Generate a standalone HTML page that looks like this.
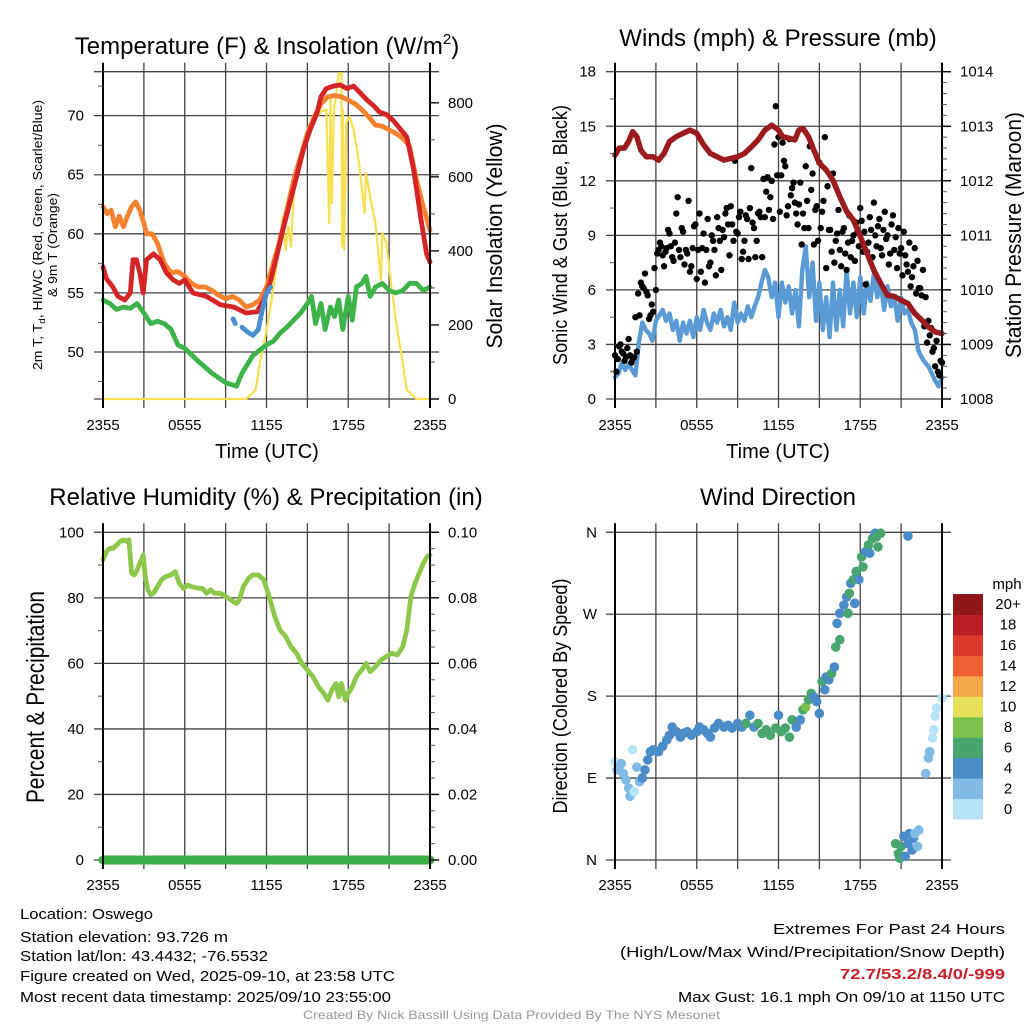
<!DOCTYPE html>
<html><head><meta charset="utf-8"><style>
html,body{margin:0;padding:0;background:#fff;}
svg{display:block;font-family:"Liberation Sans",sans-serif;}
</style></head><body>
<svg id="chart" width="1024" height="1024" viewBox="0 0 1024 1024" xmlns="http://www.w3.org/2000/svg">
<rect x="0" y="0" width="1024" height="1024" fill="#fff"/>
<g id="grids"></g>
<g id="series"></g>
<g id="frames"></g>
<g id="labels" fill="#000">
  <text x="267" y="54" font-size="24" text-anchor="middle">Temperature (F) &amp; Insolation (W/m<tspan font-size="15" dy="-10">2</tspan><tspan dy="10">)</tspan></text>
  <text x="778" y="46" font-size="24" text-anchor="middle">Winds (mph) &amp; Pressure (mb)</text>
  <text x="266" y="505" font-size="24" text-anchor="middle">Relative Humidity (%) &amp; Precipitation (in)</text>
  <text x="778" y="505" font-size="24" text-anchor="middle">Wind Direction</text>
  <text x="267" y="458" font-size="20" text-anchor="middle">Time (UTC)</text>
  <text x="778" y="458" font-size="20" text-anchor="middle">Time (UTC)</text>
  <text transform="translate(42,235) rotate(-90)" font-size="13" text-anchor="middle" textLength="270" lengthAdjust="spacingAndGlyphs">2m T, T<tspan font-size="9" dy="3">d</tspan><tspan dy="-3">, HI/WC (Red, Green, Scarlet/Blue)</tspan></text>
  <text transform="translate(57,245) rotate(-90)" font-size="13" text-anchor="middle" textLength="104" lengthAdjust="spacingAndGlyphs">&amp; 9m T (Orange)</text>
  <text transform="translate(502,236) rotate(-90)" font-size="22" text-anchor="middle" textLength="225" lengthAdjust="spacingAndGlyphs">Solar Insolation (Yellow)</text>
  <text transform="translate(567,235) rotate(-90)" font-size="20" text-anchor="middle" textLength="260" lengthAdjust="spacingAndGlyphs">Sonic Wind &amp; Gust (Blue, Black)</text>
  <text transform="translate(1021,235) rotate(-90)" font-size="22" text-anchor="middle" textLength="246" lengthAdjust="spacingAndGlyphs">Station Pressure (Maroon)</text>
  <text transform="translate(44,697) rotate(-90)" font-size="25" text-anchor="middle" textLength="212" lengthAdjust="spacingAndGlyphs">Percent &amp; Precipitation</text>
  <text transform="translate(567,696) rotate(-90)" font-size="20" text-anchor="middle" textLength="235" lengthAdjust="spacingAndGlyphs">Direction (Colored By Speed)</text>
  <text x="1007" y="589" font-size="15" text-anchor="middle">mph</text>
  <g font-size="15">
    <text x="20" y="919" textLength="133" lengthAdjust="spacingAndGlyphs">Location: Oswego</text>
    <text x="20" y="942" textLength="208" lengthAdjust="spacingAndGlyphs">Station elevation: 93.726 m</text>
    <text x="20" y="961" textLength="248" lengthAdjust="spacingAndGlyphs">Station lat/lon: 43.4432; -76.5532</text>
    <text x="20" y="981" textLength="375" lengthAdjust="spacingAndGlyphs">Figure created on Wed, 2025-09-10, at 23:58 UTC</text>
    <text x="20" y="1002" textLength="371" lengthAdjust="spacingAndGlyphs">Most recent data timestamp: 2025/09/10 23:55:00</text>
  </g>
  <g font-size="15">
    <text x="773" y="934" textLength="232" lengthAdjust="spacingAndGlyphs">Extremes For Past 24 Hours</text>
    <text x="620" y="957" textLength="385" lengthAdjust="spacingAndGlyphs">(High/Low/Max Wind/Precipitation/Snow Depth)</text>
    <text x="840" y="979" textLength="165" lengthAdjust="spacingAndGlyphs" fill="#c8202a" font-weight="bold">72.7/53.2/8.4/0/-999</text>
    <text x="678" y="1002" textLength="327" lengthAdjust="spacingAndGlyphs">Max Gust: 16.1 mph On 09/10 at 1150 UTC</text>
  </g>
  <text x="303" y="1019" font-size="12" fill="#999" textLength="417" lengthAdjust="spacingAndGlyphs">Created By Nick Bassill Using Data Provided By The NYS Mesonet</text>
</g>
</svg>
<script>
// ---------- data ----------
const timeTickLabels = ["2355","0555","1155","1755","2355"];
const tempTicks = [50,55,60,65,70];
const insolTicks = [0,200,400,600,800];
const windTicks = [0,3,6,9,12,15,18];
const presTicks = [1008,1009,1010,1011,1012,1013,1014];
const rhTicks = [0,20,40,60,80,100];
const precipTickLabels = ["0.00","0.02","0.04","0.06","0.08","0.10"];
const dirTickLabels = ["N","E","S","W","N"];
const speedBinLabels = ["0","2","4","6","8","10","12","14","16","18","20+"];
const speedBinColors = ["#b7e3f7","#7fbbe4","#4a8cc7","#48a56e","#7cc24a","#e8e05a","#f5a849","#ef6130","#dc3a2c","#bd1f26","#8f1519"];

const tempT = [0,0.25,0.73,1.1,1.6,2,2.2,2.45,2.7,2.95,3.2,3.7,4.2,4.65,5.15,5.6,6,6.6,7.6,8.6,9.6,10.5,11.3,11.8,12.25,12.75,13.2,13.7,14.2,14.7,15.2,15.7,16,16.4,16.9,17.4,17.9,18.4,18.9,19.4,19.9,20.3,20.8,21.3,21.8,22.3,22.8,23.3,23.75,24];
const tempV = [57.2,56.2,55.5,54.7,54.4,55,57.8,57.8,56.7,55,57.8,58.3,57.8,56.7,56.1,55.8,56.1,55,54.7,54,53.8,53.3,53.4,54.4,55.8,58.1,60.3,62.6,64.8,67.1,68.8,70.2,71.6,72.3,72.5,72.6,72.3,72.5,71.9,71.3,70.8,70.3,70.1,69.6,68.9,68.2,65.4,61.5,58.3,57.6];
const temp9T = [0,0.3,0.6,0.9,1.2,1.5,1.8,2.1,2.4,2.7,3,3.2,3.6,4,4.5,5,5.5,6,6.5,7,7.5,8,8.5,9,9.5,10,10.5,11,11.5,12,12.5,13,14,15,15.5,16,16.5,17,17.5,18,18.5,19,19.5,20,20.5,21,21.5,22,22.5,23,23.5,24];
const temp9V = [62.3,61.7,62,60.6,61.5,60.6,61.5,62.3,62.7,62,60.9,60,60,59.2,57.5,56.7,56.8,56.4,55.8,55.5,55.5,55.2,54.8,54.5,54.7,54.4,53.8,54,54.4,55.5,57.5,59.5,64.6,68.5,69.9,71,71.6,71.7,71.6,71.3,71,70.5,69.9,69.2,69.1,68.8,68.5,68.1,67.4,64.6,62.3,60.3];
const dewT = [0,0.5,1,1.5,2,2.5,3,3.5,4,4.5,5,5.5,6,7,8,9,9.8,10.2,11,12,12.5,13,13.5,14,14.5,15,15.3,15.6,16,16.3,16.7,17,17.3,17.6,18,18.3,18.6,19,19.3,19.6,20,20.5,21,21.5,22,22.5,23,23.5,24];
const dewV = [54.4,54.1,53.6,53.8,53.7,54.1,53.3,52.4,52.6,52.4,51.9,50.6,50.3,49.2,48.2,47.4,47.1,48.2,49.7,50.6,50.9,51.6,52.1,52.7,53.3,54.1,54.7,52.4,54.1,51.9,53.8,53,54.4,51.9,54.7,52.7,55.5,55.8,56.4,54.7,55.5,55.8,55.2,55,55.2,55.8,55.8,55.2,55.5];
const chillT = [10.2,10.6,11,11.4,11.7,12,12.3];
const chillV = [52.1,51.7,51.4,51.9,53.6,55,55.5];
const chillT2 = [9.55,9.7];
const chillV2 = [52.8,52.4];
const insolT = [0,10.5,11.2,11.5,12,12.3,12.7,13,13.2,13.4,13.6,13.8,14,14.5,15,15.5,16,16.4,16.6,16.7,16.8,16.95,17.1,17.3,17.5,17.55,17.6,17.7,17.85,18.1,18.4,18.8,19.2,19.3,19.7,20,20.4,20.5,20.8,21.2,21.6,22,22.3,23,24];
const insolV = [0,0,24,96,186,250,349,421,493,403,466,412,556,637,700,754,777,781,475,817,529,781,817,880,880,412,781,403,745,763,727,637,502,610,529,475,322,448,421,295,186,96,24,0,0];

const presT = [0,0.3,0.7,1,1.3,1.6,1.9,2.3,2.8,3.2,3.6,4,4.5,5,5.5,6,6.5,7,7.5,8,8.5,9,9.5,10,10.5,11,11.5,12,12.3,12.8,13.2,13.5,13.8,14.2,14.6,15,15.5,16,16.5,17,17.5,18,18.5,19,19.5,20,20.5,21,21.5,22,22.5,23,23.5,24];
const presV = [1012.47,1012.6,1012.6,1012.72,1012.9,1012.81,1012.56,1012.44,1012.44,1012.38,1012.5,1012.72,1012.81,1012.87,1012.93,1012.87,1012.66,1012.5,1012.44,1012.38,1012.41,1012.44,1012.5,1012.62,1012.75,1012.93,1013.02,1012.93,1012.81,1012.78,1012.75,1012.93,1012.96,1012.81,1012.56,1012.32,1012.2,1012.01,1011.71,1011.44,1011.28,1010.98,1010.67,1010.36,1010.12,1009.9,1009.88,1009.81,1009.75,1009.57,1009.45,1009.32,1009.23,1009.2];
const windStep = 0.25;
const windV = [1.2,1.4,2.0,1.6,1.9,1.6,1.3,3.1,4.2,3.8,3.6,3.2,4.3,4.6,4.9,4.3,4.7,3.8,4.3,3.2,4.2,3.6,4.3,3.4,4.5,3.8,4.9,4.2,3.8,4.7,4.2,4.9,4.0,4.5,3.8,5.3,4.2,4.7,4.3,5.1,4.5,5.1,5.6,6.4,7.1,6.7,5.6,6.4,4.5,6.4,5.3,6.2,4.7,6.0,4.0,7.1,8.4,5.6,7.5,4.3,6.4,3.8,5.6,3.4,6.4,3.8,6.0,4.0,7.1,4.7,6.4,4.5,6.7,4.7,6.4,5.4,6.9,5.6,6.4,4.9,6.2,5.1,5.6,4.3,5.6,4.7,4.9,4.2,3.8,2.7,2.3,2.0,1.8,1.4,1.0,0.7,1.2];
const gustStep = 0.2;
const gustV = [2.4,2.2,3.0,2.5,2.3,3.3,2.0,2.3,2.6,4.6,6.2,6.9,5.7,4.6,4.8,6.0,8.2,8.4,7.3,8.3,9.1,7.8,8.6,11.1,7.8,9.2,8.2,10.9,7.3,9.5,6.6,10.2,8.3,6.4,9.9,7.5,8.7,6.8,9.4,7.1,8.9,10.5,7.9,9.6,13.1,9.1,10.3,8.1,10.1,7.7,12.7,9.4,8.7,10.3,7.8,10.0,12.2,11.1,9.9,16.1,14.4,12.3,13.1,10.1,14.3,11.6,10.8,9.6,11.9,10.2,12.8,9.4,11.5,8.5,10.6,13.0,10.3,14.4,11.7,9.3,12.4,8.7,10.4,7.3,9.4,7.1,10.1,8.7,7.6,9.2,10.5,8.1,6.3,8.6,9.3,10.8,8.4,9.9,7.9,10.3,9.0,8.0,10.1,8.9,9.4,8.3,9.2,7.4,8.6,6.7,8.3,7.6,6.1,7.1,5.6,4.3,3.9,2.8,3.2,1.3,2.0];
const gustStep2 = 0.2;
const gustOffset2 = 0.1;
const gustV2 = [1.5,2.9,2.6,2.1,2.8,2.4,2.2,4.5,5.8,6.4,6.1,5.9,4.4,5.2,7.2,8.0,8.6,7.9,8.1,9.3,8.4,7.6,10.2,8.2,9.4,7.4,8.0,7.0,8.3,9.6,8.2,7.0,9.1,8.2,7.3,9.0,8.2,10.0,8.7,9.3,10.2,9.6,10.6,8.7,9.2,10.0,7.7,8.7,9.9,10.5,9.7,7.8,10.2,10.0,12.1,11.4,10.4,12.0,14.0,12.3,10.3,14.1,12.8,10.6,11.2,11.9,10.2,10.7,8.5,9.4,10.9,13.9,12.4,10.4,8.7,9.4,10.9,7.2,9.3,8.1,7.5,9.1,8.2,9.2,8.0,8.6,7.8,9.0,9.7,8.4,9.8,9.2,8.1,10.0,7.8,9.0,9.5,8.3,9.3,8.8,7.4,9.6,8.2,7.2,8.0,6.8,7.9,7.0,6.2,7.3,5.8,6.1,5.7,4.0,3.1,3.5,2.6,1.8,1.5,2.1];

const rhT = [0,0.25,0.5,0.75,1,1.25,1.5,1.75,1.9,2.1,2.3,2.5,2.7,2.95,3.1,3.3,3.5,3.7,4,4.3,4.6,5,5.3,5.6,5.9,6.2,6.5,7,7.3,7.6,7.9,8.2,8.6,9,9.4,9.8,10,10.3,10.7,11,11.4,11.8,12.2,12.6,13,13.4,13.8,14.2,14.6,15,15.4,15.8,16.2,16.5,16.8,17.1,17.3,17.5,17.8,18,18.3,18.6,19,19.3,19.6,20,20.4,20.8,21.2,21.6,22,22.3,22.6,22.9,23.2,23.5,23.8,24];
const rhV = [91.6,94.1,95.1,95.1,96.1,97.2,97.7,97.2,97.7,87.5,87,88.5,90.5,93.1,86.5,82.4,80.9,81.4,83.4,85.5,86.5,87,88,84.4,82.9,83.9,83.4,82.9,82.9,81.4,82.4,81.4,81.4,80.4,79.3,78.3,79.3,83.4,86,87,87,85.5,80.4,74.3,70.2,68.2,65.1,63.1,60,58,56,52.9,50.9,48.8,51.9,53.9,49.8,53.9,48.8,50.9,52.9,56,58,60,57.5,59,61,62.1,63.1,62.6,65.1,70.2,80.4,84.4,87.5,90.5,92.6,93.1];
const precipT = [0,24];
const precipV = [0,0];

const dirT = [0,0.15,0.3,0.45,0.6,0.8,1.0,1.1,1.3,1.4,1.6,1.8,2.0,2.2,2.4,2.6,2.8,3.0,3.2,3.5,3.8,4.0,4.2,4.5,4.8,5.0,5.3,5.6,6.0,6.2,6.5,6.8,7.0,7.3,7.6,8.0,8.3,8.6,9.0,9.3,9.6,9.9,10.2,10.5,10.8,11.1,11.4,11.8,12.0,12.2,12.5,12.8,13.0,13.3,13.6,13.8,14.0,14.2,14.4,14.6,14.8,15.0,15.2,15.4,15.5,15.7,15.9,16.1,16.2,16.5,16.3,16.5,16.8,17.0,17.1,17.2,17.3,17.5,17.6,17.7,17.9,18.1,18.2,18.4,18.6,18.7,18.9,19.1,19.2,19.3,19.5,21.5,20.6,20.8,20.9,21.0,21.2,21.3,21.5,21.6,21.8,21.9,22.0,22.2,22.3,22.8,23.0,23.1,23.3,23.4,23.5,23.6,24.0];
const dirV = [108,99,102,106,95,88,79,70,121,75,102,86,90,99,110,119,121,120,119,125,132,137,146,141,135,139,141,137,141,146,143,139,135,145,150,146,148,145,150,146,150,159,146,150,139,143,137,145,159,141,145,135,154,146,154,165,168,176,183,179,174,161,196,187,201,198,205,212,234,242,260,271,280,289,271,293,304,308,282,317,308,333,322,339,346,337,353,359,355,344,359,356,18,7,2,15,26,4,18,29,11,24,29,15,33,95,112,119,134,143,158,167,178];
const dirS = [1,2,2,2,2,3,2,2,1,1,2,3,4,4,4,4,4,4,4,4,4,4,4,4,4,4,4,4,4,4,4,4,4,4,4,4,4,4,4,4,6,4,4,6,6,6,6,6,4,6,6,6,6,4,4,6,8,6,6,4,4,4,6,4,4,4,6,4,6,6,4,4,4,4,6,6,4,6,4,6,4,6,6,4,6,4,6,4,6,6,6,4,6,6,6,6,4,4,4,4,4,4,2,2,2,2,2,2,1,1,1,1,1];

// ---------- helpers ----------
const NS = "http://www.w3.org/2000/svg";
const G = document.getElementById('grids'), S = document.getElementById('series'), F = document.getElementById('frames'), L = document.getElementById('labels');
function mk(tag, attrs, parent){const e=document.createElementNS(NS,tag);for(const k in attrs)e.setAttribute(k,attrs[k]);parent.appendChild(e);return e;}
function linear(d0,d1,r0,r1){return v=>r0+(v-d0)/(d1-d0)*(r1-r0);}

const panels = {
  tl:{x0:103,x1:430,y0:71.7,y1:399},
  tr:{x0:615,x1:942,y0:71.7,y1:399},
  bl:{x0:103,x1:430,y0:532.3,y1:860},
  br:{x0:615,x1:942,y0:532.3,y1:860}
};
for(const k in panels){const p=panels[k];p.x=linear(0,24,p.x0,p.x1);}

function drawGrid(p, yLines, name){
  const g = mk('g',{},G);
  
  
  for(let h=0;h<=24;h+=3){const x=p.x(h);mk('line',{x1:x,x2:x,y1:p.y0-9,y2:p.y1+9,stroke:'#444','stroke-width':1.3},g);}
  yLines.forEach(y=>mk('line',{x1:p.x0-9,x2:p.x1+9,y1:y,y2:y,stroke:'#444','stroke-width':1.3},g));
}
function drawFrame(p, name){
  const g = mk('g',{},F);
  
  
  mk('line',{x1:p.x0,x2:p.x0,y1:p.y0-9,y2:p.y1+9,stroke:'#000','stroke-width':2},g);
  mk('line',{x1:p.x1,x2:p.x1,y1:p.y0-9,y2:p.y1+9,stroke:'#000','stroke-width':2},g);
}
function minorTicks(p, ys, side){
  ys.forEach(y=>{ if(side==='l') mk('line',{x1:p.x0-5,x2:p.x0,y1:y,y2:y,stroke:'#555','stroke-width':1},F);
    else mk('line',{x1:p.x1,x2:p.x1+5,y1:y,y2:y,stroke:'#555','stroke-width':1},F);});
}
function xLabels(p, base){
  timeTickLabels.forEach((t,i)=>{const e=mk('text',{x:p.x(i*6),y:base,'font-size':15,'text-anchor':'middle'},L);e.textContent=t;
    
    });
}
function yLabel(x,y,txt,anchor){const e=mk('text',{x:x,y:y+5,'font-size':15,'text-anchor':anchor},L);e.textContent=txt;
  
  return e;}
function path(p, ys, ts, vs, color, w, name){
  const d = ts.map((t,i)=>(i?'L':'M')+p.x(t).toFixed(1)+','+ys(vs[i]).toFixed(1)).join(' ');
  const e = mk('path',{d:d,fill:'none',stroke:color,'stroke-width':w,'stroke-linejoin':'round','stroke-linecap':'round'},S);
  
  
  return e;
}

// ---------- Panel TL: temperature ----------
{
  const p=panels.tl;
  const yT = linear(46.02,73.72,p.y1,p.y0);
  const yI = linear(0,884,p.y1,p.y0);
  drawGrid(p,[p.y0,p.y1].concat(tempTicks.map(yT)),'temperature');
  path(p,yI,insolT,insolV,'#f7e04f',2.2,'insolation-line');
  path(p,yT,dewT,dewV,'#3db34a',4.8,'dewpoint-line');
  path(p,yT,temp9T,temp9V,'#f5822e',4.8,'temp-9m-line');
  path(p,yT,tempT,tempV,'#d42426',4.8,'temp-2m-line');
  path(p,yT,chillT,chillV,'#4a90d0',4.8,'windchill-line');
  path(p,yT,chillT2,chillV2,'#4a90d0',4.8,'windchill-line-start');
  drawFrame(p,'temperature');
  minorTicks(p,[47.5,52.5,57.5,62.5,67.5,72.5].map(yT),'l');
  const minorI=[];for(let v=100;v<=800;v+=100)minorI.push(yI(v));
  minorTicks(p,minorI,'r');
  tempTicks.forEach(v=>yLabel(84,yT(v),String(v),'end'));
  insolTicks.forEach(v=>{mk('line',{x1:p.x1,x2:p.x1+9,y1:yI(v),y2:yI(v),stroke:'#000','stroke-width':1.3},F);yLabel(448,yI(v),String(v),'start');});
  xLabels(p,430);
}
// ---------- Panel TR: winds ----------
{
  const p=panels.tr;
  const yW = linear(0,18,p.y1,p.y0);
  const yP = linear(1008,1014,p.y1,p.y0);
  drawGrid(p,windTicks.map(yW),'winds');
  const wt = windV.map((v,i)=>i*windStep);
  path(p,yW,wt,windV,'#5b9bd5',4.4,'wind-speed-line');
  const gg = mk('g',{fill:'#000'},S);
  
  
  gustV.forEach((v,i)=>{const c=mk('circle',{cx:p.x(i*gustStep),cy:yW(v),r:3.2},gg);
    
    });
  gustV2.forEach((v,i)=>{const c=mk('circle',{cx:p.x(gustOffset2+i*gustStep2),cy:yW(v),r:3.2},gg);
    
    });
  path(p,yP,presT,presV,'#9b1b1e',5.5,'pressure-line');
  drawFrame(p,'winds');
  const mW=[];for(let v=1.5;v<18;v+=3)mW.push(yW(v));minorTicks(p,mW,'l');
  const mP=[];for(let v=1008.2;v<1014;v+=0.2){if(Math.abs(v-Math.round(v))>0.05)mP.push(yP(v));}minorTicks(p,mP,'r');
  windTicks.forEach(v=>yLabel(596,yW(v),String(v),'end'));
  presTicks.forEach(v=>{mk('line',{x1:p.x1,x2:p.x1+9,y1:yP(v),y2:yP(v),stroke:'#000','stroke-width':1.3},F);yLabel(960,yP(v),String(v),'start');});
  xLabels(p,430);
}
// ---------- Panel BL: humidity ----------
{
  const p=panels.bl;
  const yR = linear(0,100,p.y1,p.y0);
  const yPr = linear(0,0.1,p.y1,p.y0);
  drawGrid(p,rhTicks.map(yR),'humidity');
  path(p,yR,rhT,rhV,'#8dc84c',4.8,'humidity-line');
  path(p,yPr,precipT,precipV,'#3aae45',9,'precipitation-line');
  drawFrame(p,'humidity');
  const mR=[];for(let v=10;v<100;v+=20)mR.push(yR(v));minorTicks(p,mR,'l');
  const mPr=[];for(let v=5;v<100;v+=5){if(v%20)mPr.push(yR(v));}minorTicks(p,mPr,'r');
  rhTicks.forEach(v=>yLabel(84,yR(v),String(v),'end'));
  precipTickLabels.forEach((t,i)=>{const y=yPr(i*0.02);mk('line',{x1:p.x1,x2:p.x1+9,y1:y,y2:y,stroke:'#000','stroke-width':1.3},F);yLabel(448,y,t,'start');});
  xLabels(p,890);
}
// ---------- Panel BR: wind direction ----------
{
  const p=panels.br;
  const yD = linear(0,360,p.y1,p.y0);
  drawGrid(p,[0,90,180,270,360].map(yD),'wind-direction');
  const dg = mk('g',{},S);
  
  
  dirV.forEach((v,i)=>{const bin=Math.min(10,Math.floor(dirS[i]/2));
    const c=mk('circle',{cx:p.x(dirT[i]),cy:yD(v),r:4.8,fill:speedBinColors[bin]},dg);
    
    });
  drawFrame(p,'wind-direction');
  dirTickLabels.forEach((t,i)=>yLabel(597,yD(i*90),t,'end'));
  xLabels(p,890);
  const cb = mk('g',{},L);
  
  
  const top=594, bot=819, h=(bot-top)/speedBinColors.length;
  speedBinColors.forEach((c,i)=>{const y=bot-(i+1)*h;
    const r=mk('rect',{x:953,y:y,width:30,height:h+0.5,fill:c},cb);
    
    
    const t=mk('text',{x:1008,y:y+h/2+5,'font-size':15,'text-anchor':'middle',fill:'#000'},cb);t.textContent=speedBinLabels[i];
    
    });
}
</script>
</body></html>
